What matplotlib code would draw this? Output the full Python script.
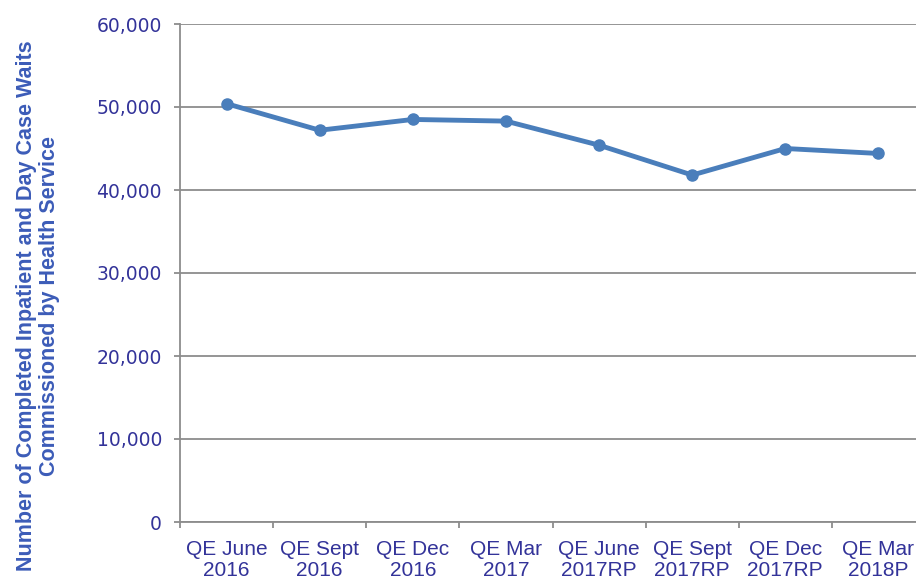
import matplotlib
matplotlib.use("Agg")
import matplotlib.pyplot as plt
from matplotlib.ticker import FuncFormatter, FixedLocator

# values
quarters = ["QE June\n2016", "QE Sept\n2016", "QE Dec\n2016", "QE Mar\n2017",
            "QE June\n2017RP", "QE Sept\n2017RP", "QE Dec\n2017RP", "QE Mar\n2018P"]
waits = [50400, 47200, 48500, 48300, 45400, 41800, 45000, 44400]
y_ticks = [0, 10000, 20000, 30000, 40000, 50000, 60000]

text_blue = "#333399"
label_blue = "#3c5cb8"
line_blue = "#4a7ebb"
grid_grey = "#8c8c8c"

W, H = 916, 581
fig = plt.figure(figsize=(W / 100, H / 100), dpi=100)
# right edge of the plot area sits just past the picture edge, like the reference
ax = fig.add_axes([180 / W, (H - 522) / H, (925 - 180) / W, (522 - 24) / H])

x = list(range(len(quarters)))
ax.plot(x, waits, color=line_blue, lw=3.5, marker="o", ms=8, zorder=3,
        solid_capstyle="round")

ax.set_xlim(-0.5, len(quarters) - 0.5)
ax.set_ylim(0, 60000)
ax.set_yticks(y_ticks)
ax.yaxis.set_major_formatter(FuncFormatter(lambda v, _: f"{int(v):,}"))
ax.grid(axis="y", color=grid_grey, lw=1.3)
ax.set_axisbelow(True)

# category labels centred on points, tick marks between categories
ax.set_xticks(x)
ax.set_xticklabels(quarters, fontsize=15, color=text_blue,
                   family=["Liberation Sans", "DejaVu Sans"], linespacing=1.1)
ax.tick_params(axis="x", which="major", length=0, pad=13)
ax.xaxis.set_minor_locator(FixedLocator([i - 0.5 for i in range(len(quarters) + 1)]))
ax.tick_params(axis="x", which="minor", length=4, width=1.3, color=grid_grey)
ax.tick_params(axis="y", length=4, width=1.3, color=grid_grey, pad=9,
               labelsize=13.5, labelcolor=text_blue)
for lab in ax.get_yticklabels():
    lab.set_family("DejaVu Sans")

for side in ["top", "right"]:
    ax.spines[side].set_visible(False)
for side in ["left", "bottom"]:
    ax.spines[side].set_color(grid_grey)
    ax.spines[side].set_linewidth(1.3)

fig.text(38 / W, 1 - 306 / H,
         "Number of Completed Inpatient and Day Case Waits\nCommissioned by Health Service",
         rotation=90, ha="center", va="center", multialignment="center",
         fontsize=15.5, fontweight="bold", color=label_blue,
         family=["Liberation Sans", "DejaVu Sans"], linespacing=1.18)

fig.savefig("out.png", dpi=100)
